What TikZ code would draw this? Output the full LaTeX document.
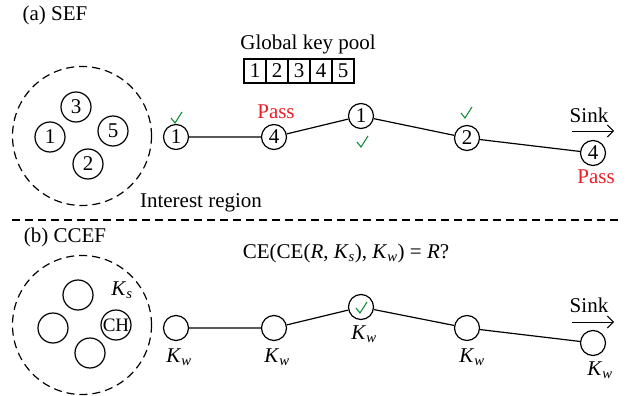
\documentclass[tikz,border=0pt]{standalone}
\usepackage{fontspec}
\setmainfont{Liberation Serif}
\usetikzlibrary{arrows.meta}
\definecolor{chkgreen}{RGB}{20,140,60}
\definecolor{passred}{RGB}{235,30,40}
\begin{document}
\begin{tikzpicture}[x=1pt,y=-1pt,font=\fontsize{21}{25}\selectfont,
  lw/.style={line width=1.2pt},
  knode/.style={circle,draw,lw,minimum size=25pt,inner sep=0pt},
  inode/.style={circle,draw,lw,minimum size=30pt,inner sep=0pt},
  region/.style={circle,draw,lw,dash pattern=on 8pt off 5pt,minimum size=139pt,inner sep=0pt},
  keybox/.style={draw,lw,minimum width=22pt,minimum height=24pt,inner sep=0pt},
  pass/.style={text=passred},
  link/.style={lw},
  sinkarrow/.style={line width=1pt,-{Straight Barb[length=6pt,width=12pt]}},
  chk/.pic={\draw[chkgreen,line width=1.1pt] (-5,0) -- (-1,5) -- (6,-6);}
]
\useasboundingbox (0,0) rectangle (632,396);

% ---------- (a) SEF ----------
\node (ta) at (55,15) {(a) SEF};
\node[region] (ra) at (82,136) {};
\node[inode] (i3) at (76,107) {3};
\node[inode] (i1) at (50,137) {1};
\node[inode] (i5) at (113,131) {5};
\node[inode] (i2) at (88,164) {2};

\node (gkp) at (308,44) {Global key pool};
\foreach \k [count=\j] in {1,...,5}
  \node[keybox] (kb\k) at ({255+22*(\j-1)},71) {\k};

\node[knode] (a1) at (176,137) {1};
\node[knode] (a2) at (274,137) {4};
\node[knode] (a3) at (361,116) {1};
\node[knode] (a4) at (467,138) {2};
\node[knode] (a5) at (593,153) {4};
\draw[link] (a1) -- (a2) -- (a3) -- (a4) -- (a5);

\pic at (176,118) {chk};
\pic at (362,142) {chk};
\pic at (466,113) {chk};
\node[pass] (pa) at (276,112) {Pass};
\node[pass] (pb) at (596,177) {Pass};

\node (sa) at (589,115) {Sink};
\coordinate (sa1) at (572,131);
\coordinate (sa2) at (614,131);
\draw[sinkarrow] (sa1) -- (sa2);

\node (ir) at (201,203) {Interest region};

\coordinate (dl) at (12,220);
\coordinate (dr) at (620,220);
\draw[lw,dash pattern=on 8pt off 5pt] (dl) -- (dr);

% ---------- (b) CCEF ----------
\node (tb) at (65,237) {(b) CCEF};
\node (ce) at (346,253) {CE(CE(\textit{R}, \textit{K}\textsubscript{\textit{s}}), \textit{K}\textsubscript{\textit{w}}) = \textit{R}?};

\node[region] (rb) at (82,325) {};
\node[inode] (j1) at (78,295) {};
\node[inode] (j2) at (53,328) {};
\node[inode] (j3) at (90,353) {};
\node[inode,font=\fontsize{19}{21}\selectfont] (ch) at (116,325) {CH};
\node (ks) at (122,290) {\textit{K}\textsubscript{\textit{s}}};

\node[knode] (b1) at (176,328) {};
\node[knode] (b2) at (274,328) {};
\node[knode] (b3) at (361,307) {};
\node[knode] (b4) at (467,328) {};
\node[knode] (b5) at (593,343) {};
\draw[link] (b1) -- (b2) -- (b3) -- (b4) -- (b5);
\pic at (361,308) {chk};

\node (w1) at (179,357) {\textit{K}\textsubscript{\textit{w}}};
\node (w2) at (277,357) {\textit{K}\textsubscript{\textit{w}}};
\node (w3) at (364,334) {\textit{K}\textsubscript{\textit{w}}};
\node (w4) at (472,357) {\textit{K}\textsubscript{\textit{w}}};
\node (w5) at (600,370) {\textit{K}\textsubscript{\textit{w}}};

\node (sb) at (589,305) {Sink};
\coordinate (sb1) at (572,322);
\coordinate (sb2) at (614,322);
\draw[sinkarrow] (sb1) -- (sb2);
\end{tikzpicture}
\end{document}
